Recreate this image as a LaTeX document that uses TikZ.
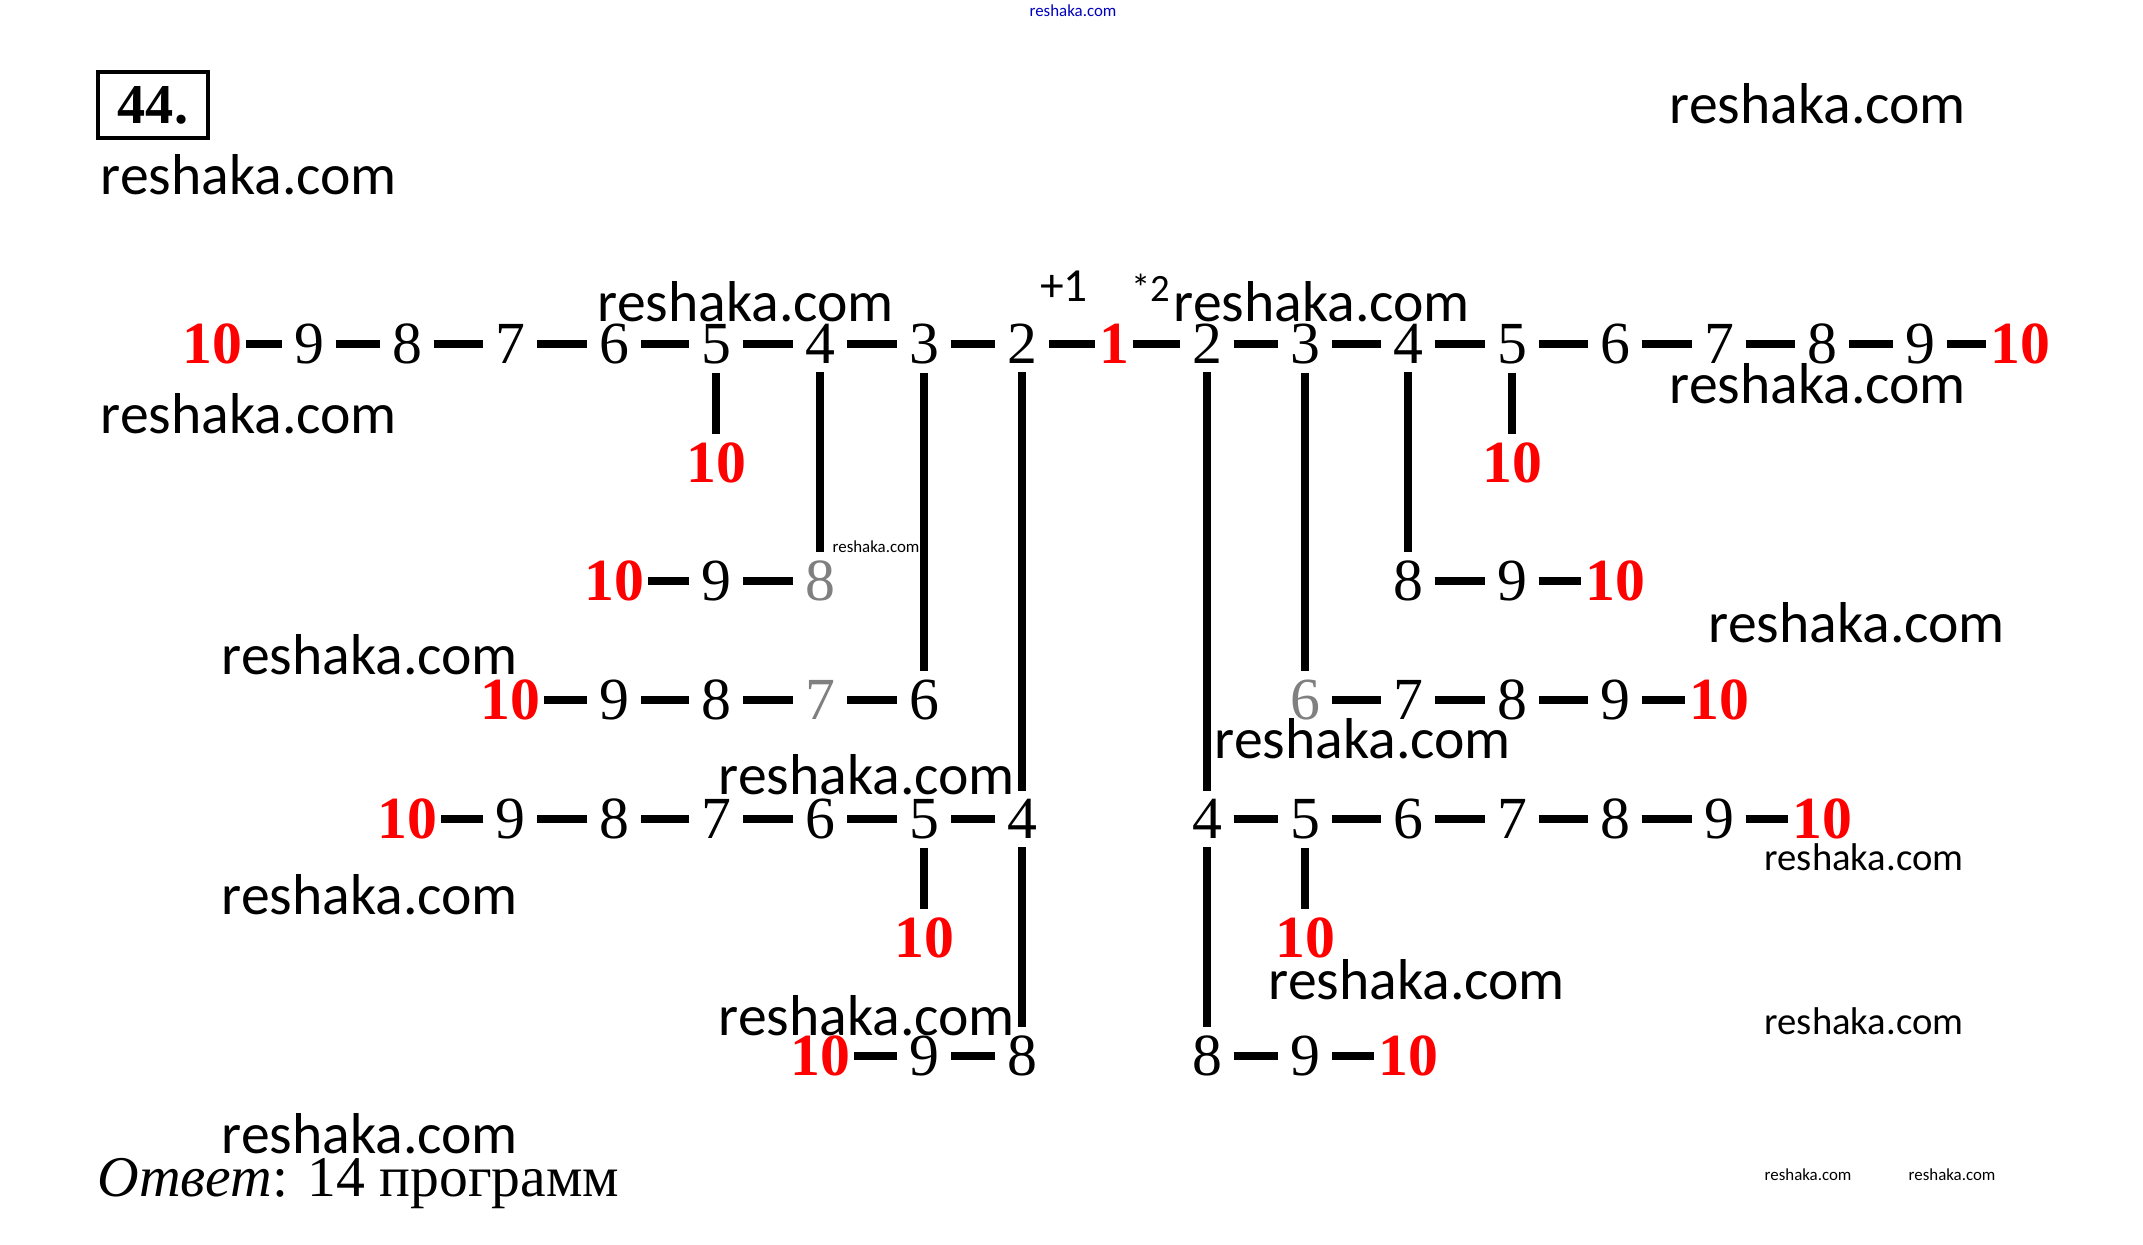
\documentclass[tikz,border=0pt]{standalone}
\usepackage{fontspec}
\setmainfont{Liberation Serif}
\newfontfamily\wmfont{Carlito}
\usepackage{tikz}
\usepackage{xcolor}

\begin{document}
\begin{tikzpicture}[
    num/.style={font=\fontsize{17}{17}\selectfont,inner xsep=1.1mm,inner ysep=0.8mm},
    fin/.style={num,font=\fontsize{17}{17}\selectfont\bfseries,text=red,inner xsep=0.3mm},
    faded/.style={num,text=gray},
    bar/.style={line width=0.8mm},
    wm/.style={font=\wmfont\fontsize{16.4}{18}\selectfont,anchor=west,inner sep=0pt},
    wmsmall/.style={wm,font=\wmfont\fontsize{11}{12}\selectfont},
    wmtiny/.style={wm,font=\wmfont\fontsize{4.8}{5}\selectfont}]

\fill[white] (0,0) rectangle (21.43,-12.45);
\useasboundingbox (0,0) rectangle (21.43,-12.45);

% Номер задачи
\node[draw,line width=0.4mm,minimum width=11mm,minimum height=6.6mm,inner sep=0pt,
      font=\fontsize{16}{16}\selectfont\bfseries] (nomer) at (1.53,-1.05) {44.};

% Верхняя строка
\node[fin] (s1) at (11.14,-3.44) {1};
\node[num] (l2) at (10.22,-3.44) {2};
\node[num] (l3) at (9.24,-3.44) {3};
\node[num] (l4) at (8.20,-3.44) {4};
\node[num] (l5) at (7.16,-3.44) {5};
\node[num] (l6) at (6.14,-3.44) {6};
\node[num] (l7) at (5.10,-3.44) {7};
\node[num] (l8) at (4.07,-3.44) {8};
\node[num] (l9) at (3.09,-3.44) {9};
\node[fin] (l10) at (2.12,-3.44) {10};
\node[num] (r2) at (12.07,-3.44) {2};
\node[num] (r3) at (13.05,-3.44) {3};
\node[num] (r4) at (14.08,-3.44) {4};
\node[num] (r5) at (15.12,-3.44) {5};
\node[num] (r6) at (16.15,-3.44) {6};
\node[num] (r7) at (17.19,-3.44) {7};
\node[num] (r8) at (18.22,-3.44) {8};
\node[num] (r9) at (19.20,-3.44) {9};
\node[fin] (r10) at (20.20,-3.44) {10};

\node[anchor=base,inner sep=0pt,font=\wmfont\fontsize{13.5}{14}\selectfont] (plus) at (10.64,-3.02) {+1};
\node[anchor=base,inner sep=0pt,font=\wmfont\fontsize{11}{12}\selectfont] (mult) at (11.51,-3.02) {*2};

% Левая ветка
\node[fin] (la10) at (7.16,-4.63) {10};
\node[faded] (lb8) at (8.20,-5.81) {8};
\node[num] (lb9) at (7.16,-5.81) {9};
\node[fin] (lb10) at (6.14,-5.81) {10};
\node[num] (lc6) at (9.24,-7.00) {6};
\node[faded] (lc7) at (8.20,-7.00) {7};
\node[num] (lc8) at (7.16,-7.00) {8};
\node[num] (lc9) at (6.14,-7.00) {9};
\node[fin] (lc10) at (5.10,-7.00) {10};
\node[num] (ld4) at (10.22,-8.19) {4};
\node[num] (ld5) at (9.24,-8.19) {5};
\node[num] (ld6) at (8.20,-8.19) {6};
\node[num] (ld7) at (7.16,-8.19) {7};
\node[num] (ld8) at (6.14,-8.19) {8};
\node[num] (ld9) at (5.10,-8.19) {9};
\node[fin] (ld10) at (4.07,-8.19) {10};
\node[fin] (le10) at (9.24,-9.38) {10};
\node[num] (lf8) at (10.22,-10.56) {8};
\node[num] (lf9) at (9.24,-10.56) {9};
\node[fin] (lf10) at (8.20,-10.56) {10};

% Правая ветка
\node[fin] (ra10) at (15.12,-4.63) {10};
\node[num] (rb8) at (14.08,-5.81) {8};
\node[num] (rb9) at (15.12,-5.81) {9};
\node[fin] (rb10) at (16.15,-5.81) {10};
\node[faded] (rc6) at (13.05,-7.00) {6};
\node[num] (rc7) at (14.08,-7.00) {7};
\node[num] (rc8) at (15.12,-7.00) {8};
\node[num] (rc9) at (16.15,-7.00) {9};
\node[fin] (rc10) at (17.19,-7.00) {10};
\node[num] (rd4) at (12.07,-8.19) {4};
\node[num] (rd5) at (13.05,-8.19) {5};
\node[num] (rd6) at (14.08,-8.19) {6};
\node[num] (rd7) at (15.12,-8.19) {7};
\node[num] (rd8) at (16.15,-8.19) {8};
\node[num] (rd9) at (17.19,-8.19) {9};
\node[fin] (rd10) at (18.22,-8.19) {10};
\node[fin] (re10) at (13.05,-9.38) {10};
\node[num] (rf8) at (12.07,-10.56) {8};
\node[num] (rf9) at (13.05,-10.56) {9};
\node[fin] (rf10) at (14.08,-10.56) {10};

% Связи
\draw[bar] (l10) -- (l9) -- (l8) -- (l7) -- (l6) -- (l5) -- (l4) -- (l3) -- (l2) -- (s1)
  -- (r2) -- (r3) -- (r4) -- (r5) -- (r6) -- (r7) -- (r8) -- (r9) -- (r10);
\draw[bar] (l5) -- (la10);
\draw[bar] (l4) -- (lb8) -- (lb9) -- (lb10);
\draw[bar] (l3) -- (lc6) -- (lc7) -- (lc8) -- (lc9) -- (lc10);
\draw[bar] (l2) -- (ld4) -- (ld5) -- (ld6) -- (ld7) -- (ld8) -- (ld9) -- (ld10);
\draw[bar] (ld5) -- (le10);
\draw[bar] (ld4) -- (lf8) -- (lf9) -- (lf10);
\draw[bar] (r5) -- (ra10);
\draw[bar] (r4) -- (rb8) -- (rb9) -- (rb10);
\draw[bar] (r3) -- (rc6) -- (rc7) -- (rc8) -- (rc9) -- (rc10);
\draw[bar] (r2) -- (rd4) -- (rd5) -- (rd6) -- (rd7) -- (rd8) -- (rd9) -- (rd10);
\draw[bar] (rd5) -- (re10);
\draw[bar] (rd4) -- (rf8) -- (rf9) -- (rf10);

% Ответ
\node[anchor=base west,inner sep=0pt,font=\fontsize{16.4}{18}\selectfont] (otvet) at (0.97,-11.96)
  {\textit{Ответ}: 14 программ};

% Водяные знаки
\node[wm] (w1) at (1.00,-1.75) {reshaka.com};
\node[wm] (w2) at (16.69,-1.04) {reshaka.com};
\node[wm] (w3) at (5.97,-3.02) {reshaka.com};
\node[wm] (w4) at (11.73,-3.02) {reshaka.com};
\node[wm] (w5) at (1.00,-4.14) {reshaka.com};
\node[wm] (w6) at (16.69,-3.84) {reshaka.com};
\node[wm] (w7) at (17.08,-6.23) {reshaka.com};
\node[wm] (w8) at (2.21,-6.55) {reshaka.com};
\node[wm] (w9) at (12.14,-7.39) {reshaka.com};
\node[wm] (w10) at (7.18,-7.75) {reshaka.com};
\node[wm] (w11) at (2.21,-8.95) {reshaka.com};
\node[wm] (w12) at (12.68,-9.80) {reshaka.com};
\node[wm] (w13) at (7.18,-10.16) {reshaka.com};
\node[wm] (w14) at (2.21,-11.34) {reshaka.com};
\node[wmsmall] (w15) at (17.64,-8.57) {reshaka.com};
\node[wmsmall] (w16) at (17.64,-10.21) {reshaka.com};
\node[wmtiny] (w17) at (8.32,-5.47) {reshaka.com};
\node[wmtiny] (w18) at (17.64,-11.75) {reshaka.com};
\node[wmtiny] (w19) at (19.08,-11.75) {reshaka.com};
\node[wmtiny,anchor=center,text=blue!75!black] (w20) at (10.73,-0.11) {reshaka.com};

\end{tikzpicture}
\end{document}
